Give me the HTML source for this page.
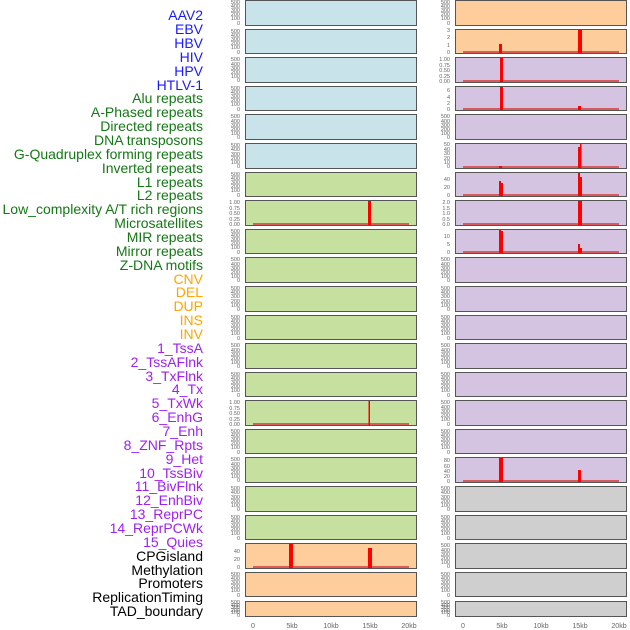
<!DOCTYPE html>
<html><head><meta charset="utf-8"><style>
body{margin:0;background:#fff;width:630px;height:630px;overflow:hidden}
svg{display:block}
.l{font-family:"Liberation Sans",sans-serif;font-size:14px;text-anchor:end}
.t{font-family:"Liberation Sans",sans-serif;font-size:5.5px;fill:#666;text-anchor:end}
.a{font-family:"Liberation Sans",sans-serif;font-size:7px;fill:#666;text-anchor:middle}
.b{fill:#c8e3ea}.g{fill:#c6e0a0}.o{fill:#fdcd9c}.p{fill:#d5c4e1}.y{fill:#cfcfcf}
rect.pn{stroke:#555;stroke-width:1}
</style></head><body>
<svg width="630" height="630" xmlns="http://www.w3.org/2000/svg">
<g class="l">
<text x="203" y="20" fill="#1a1aff">AAV2</text>
<text x="203" y="34" fill="#1a1aff">EBV</text>
<text x="203" y="48" fill="#1a1aff">HBV</text>
<text x="203" y="62" fill="#1a1aff">HIV</text>
<text x="203" y="76" fill="#1a1aff">HPV</text>
<text x="203" y="90" fill="#1a1aff">HTLV-1</text>
<text x="203" y="103" fill="#147814">Alu repeats</text>
<text x="203" y="117" fill="#147814">A-Phased repeats</text>
<text x="203" y="131" fill="#147814">Directed repeats</text>
<text x="203" y="145" fill="#147814">DNA transposons</text>
<text x="203" y="159" fill="#147814">G-Quadruplex forming repeats</text>
<text x="203" y="173" fill="#147814">Inverted repeats</text>
<text x="203" y="187" fill="#147814">L1 repeats</text>
<text x="203" y="200" fill="#147814">L2 repeats</text>
<text x="203" y="214" fill="#147814">Low_complexity A/T rich regions</text>
<text x="203" y="228" fill="#147814">Microsatellites</text>
<text x="203" y="242" fill="#147814">MIR repeats</text>
<text x="203" y="256" fill="#147814">Mirror repeats</text>
<text x="203" y="270" fill="#147814">Z-DNA motifs</text>
<text x="203" y="284" fill="#ffa500">CNV</text>
<text x="203" y="297" fill="#ffa500">DEL</text>
<text x="203" y="311" fill="#ffa500">DUP</text>
<text x="203" y="325" fill="#ffa500">INS</text>
<text x="203" y="339" fill="#ffa500">INV</text>
<text x="203" y="353" fill="#a020f0">1_TssA</text>
<text x="203" y="367" fill="#a020f0">2_TssAFlnk</text>
<text x="203" y="381" fill="#a020f0">3_TxFlnk</text>
<text x="203" y="394" fill="#a020f0">4_Tx</text>
<text x="203" y="408" fill="#a020f0">5_TxWk</text>
<text x="203" y="422" fill="#a020f0">6_EnhG</text>
<text x="203" y="436" fill="#a020f0">7_Enh</text>
<text x="203" y="450" fill="#a020f0">8_ZNF_Rpts</text>
<text x="203" y="464" fill="#a020f0">9_Het</text>
<text x="203" y="478" fill="#a020f0">10_TssBiv</text>
<text x="203" y="491" fill="#a020f0">11_BivFlnk</text>
<text x="203" y="505" fill="#a020f0">12_EnhBiv</text>
<text x="203" y="519" fill="#a020f0">13_ReprPC</text>
<text x="203" y="533" fill="#a020f0">14_ReprPCWk</text>
<text x="203" y="547" fill="#a020f0">15_Quies</text>
<text x="203" y="561" fill="#000">CPGisland</text>
<text x="203" y="575" fill="#000">Methylation</text>
<text x="203" y="588" fill="#000">Promoters</text>
<text x="203" y="602" fill="#000">ReplicationTiming</text>
<text x="203" y="616" fill="#000">TAD_boundary</text>
</g>

<!-- left panels -->
<rect class="pn b" x="245.5" y="0.5" width="171" height="25"/>
<rect class="pn b" x="245.5" y="29.5" width="171" height="24"/>
<rect class="pn b" x="245.5" y="57.5" width="171" height="25"/>
<rect class="pn b" x="245.5" y="86.5" width="171" height="24"/>
<rect class="pn b" x="245.5" y="114.5" width="171" height="25"/>
<rect class="pn b" x="245.5" y="143.5" width="171" height="25"/>
<rect class="pn g" x="245.5" y="172.5" width="171" height="24"/>
<rect class="pn g" x="245.5" y="200.5" width="171" height="25"/>
<rect class="pn g" x="245.5" y="229.5" width="171" height="24"/>
<rect class="pn g" x="245.5" y="257.5" width="171" height="25"/>
<rect class="pn g" x="245.5" y="286.5" width="171" height="25"/>
<rect class="pn g" x="245.5" y="315.5" width="171" height="24"/>
<rect class="pn g" x="245.5" y="343.5" width="171" height="25"/>
<rect class="pn g" x="245.5" y="372.5" width="171" height="24"/>
<rect class="pn g" x="245.5" y="400.5" width="171" height="25"/>
<rect class="pn g" x="245.5" y="429.5" width="171" height="24"/>
<rect class="pn g" x="245.5" y="457.5" width="171" height="25"/>
<rect class="pn g" x="245.5" y="486.5" width="171" height="25"/>
<rect class="pn g" x="245.5" y="515.5" width="171" height="24"/>
<rect class="pn o" x="245.5" y="543.5" width="171" height="25"/>
<rect class="pn o" x="245.5" y="572.5" width="171" height="24"/>
<rect class="pn o" x="245.5" y="601.5" width="171" height="15"/>

<!-- right panels -->
<rect class="pn o" x="455.5" y="0.5" width="171" height="25"/>
<rect class="pn o" x="455.5" y="29.5" width="171" height="24"/>
<rect class="pn p" x="455.5" y="57.5" width="171" height="25"/>
<rect class="pn p" x="455.5" y="86.5" width="171" height="24"/>
<rect class="pn p" x="455.5" y="114.5" width="171" height="25"/>
<rect class="pn p" x="455.5" y="143.5" width="171" height="25"/>
<rect class="pn p" x="455.5" y="172.5" width="171" height="24"/>
<rect class="pn p" x="455.5" y="200.5" width="171" height="25"/>
<rect class="pn p" x="455.5" y="229.5" width="171" height="24"/>
<rect class="pn p" x="455.5" y="257.5" width="171" height="25"/>
<rect class="pn p" x="455.5" y="286.5" width="171" height="25"/>
<rect class="pn p" x="455.5" y="315.5" width="171" height="24"/>
<rect class="pn p" x="455.5" y="343.5" width="171" height="25"/>
<rect class="pn p" x="455.5" y="372.5" width="171" height="24"/>
<rect class="pn p" x="455.5" y="400.5" width="171" height="25"/>
<rect class="pn p" x="455.5" y="429.5" width="171" height="24"/>
<rect class="pn p" x="455.5" y="457.5" width="171" height="25"/>
<rect class="pn y" x="455.5" y="486.5" width="171" height="25"/>
<rect class="pn y" x="455.5" y="515.5" width="171" height="24"/>
<rect class="pn y" x="455.5" y="543.5" width="171" height="25"/>
<rect class="pn y" x="455.5" y="572.5" width="171" height="24"/>
<rect class="pn y" x="455.5" y="601.5" width="171" height="15"/>

<!-- baselines -->
<g fill="#d84848" opacity="0.85">
<rect x="253" y="223" width="156" height="2"/>
<rect x="253" y="423" width="156" height="2"/>
<rect x="253" y="566" width="156" height="2"/>
<rect x="463" y="51" width="156" height="2"/>
<rect x="463" y="80" width="156" height="2"/>
<rect x="463" y="108" width="156" height="2"/>
<rect x="463" y="166" width="156" height="2"/>
<rect x="463" y="194" width="156" height="2"/>
<rect x="463" y="223" width="156" height="2"/>
<rect x="463" y="251" width="156" height="2"/>
<rect x="463" y="480" width="156" height="2"/>
</g>
<!-- bars -->
<g fill="#ff0000">
<rect x="368" y="201" width="3" height="24"/>
<rect x="368.5" y="401" width="1.5" height="24"/>
<rect x="289" y="544" width="4" height="24"/>
<rect x="368" y="548" width="4" height="20"/>
<rect x="499" y="44" width="3" height="9"/>
<rect x="578" y="30" width="4" height="23"/>
<rect x="500" y="58" width="3" height="24"/>
<rect x="500" y="87" width="3" height="23"/>
<rect x="578" y="106" width="3" height="4"/>
<rect x="499" y="166" width="3" height="2"/>
<rect x="578" y="147" width="2" height="21"/>
<rect x="580" y="144" width="1.5" height="24"/>
<rect x="499" y="181" width="2" height="15"/>
<rect x="501" y="183" width="2" height="13"/>
<rect x="578" y="173" width="2" height="23"/>
<rect x="580" y="177" width="2" height="19"/>
<rect x="578" y="201" width="4" height="24"/>
<rect x="499" y="230" width="2" height="23"/>
<rect x="501" y="231" width="2" height="22"/>
<rect x="578" y="244" width="2" height="9"/>
<rect x="580" y="248" width="2" height="5"/>
<rect x="499" y="458" width="4" height="24"/>
<rect x="578" y="470" width="3" height="12"/>
</g>

<!-- tick labels -->
<g class="t">
<text x="240" y="4">500</text><text x="240" y="8">400</text><text x="240" y="12">300</text><text x="240" y="16">200</text><text x="240" y="20">100</text><text x="240" y="25">0</text>
<text x="240" y="33">500</text><text x="240" y="37">400</text><text x="240" y="41">300</text><text x="240" y="45">200</text><text x="240" y="49">100</text><text x="240" y="54">0</text>
<text x="240" y="61">500</text><text x="240" y="66">400</text><text x="240" y="70">300</text><text x="240" y="74">200</text><text x="240" y="78">100</text><text x="240" y="82">0</text>
<text x="240" y="90">500</text><text x="240" y="94">400</text><text x="240" y="98">300</text><text x="240" y="102">200</text><text x="240" y="106">100</text><text x="240" y="111">0</text>
<text x="240" y="118">500</text><text x="240" y="123">400</text><text x="240" y="127">300</text><text x="240" y="131">200</text><text x="240" y="135">100</text><text x="240" y="139">0</text>
<text x="240" y="147">500</text><text x="240" y="151">400</text><text x="240" y="156">300</text><text x="240" y="160">200</text><text x="240" y="164">100</text><text x="240" y="168">0</text>
<text x="240" y="176">500</text><text x="240" y="180">400</text><text x="240" y="184">300</text><text x="240" y="188">200</text><text x="240" y="192">100</text><text x="240" y="197">0</text>
<text x="240" y="204">1.00</text><text x="240" y="210">0.75</text><text x="240" y="215">0.50</text><text x="240" y="221">0.25</text><text x="240" y="226">0.00</text>
<text x="240" y="233">500</text><text x="240" y="237">400</text><text x="240" y="241">300</text><text x="240" y="245">200</text><text x="240" y="249">100</text><text x="240" y="254">0</text>
<text x="240" y="261">500</text><text x="240" y="266">400</text><text x="240" y="270">300</text><text x="240" y="274">200</text><text x="240" y="278">100</text><text x="240" y="282">0</text>
<text x="240" y="290">500</text><text x="240" y="294">400</text><text x="240" y="298">300</text><text x="240" y="303">200</text><text x="240" y="307">100</text><text x="240" y="311">0</text>
<text x="240" y="319">500</text><text x="240" y="323">400</text><text x="240" y="327">300</text><text x="240" y="331">200</text><text x="240" y="335">100</text><text x="240" y="340">0</text>
<text x="240" y="347">500</text><text x="240" y="352">400</text><text x="240" y="356">300</text><text x="240" y="360">200</text><text x="240" y="364">100</text><text x="240" y="368">0</text>
<text x="240" y="376">500</text><text x="240" y="380">400</text><text x="240" y="384">300</text><text x="240" y="388">200</text><text x="240" y="392">100</text><text x="240" y="397">0</text>
<text x="240" y="404">1.00</text><text x="240" y="410">0.75</text><text x="240" y="415">0.50</text><text x="240" y="421">0.25</text><text x="240" y="426">0.00</text>
<text x="240" y="433">500</text><text x="240" y="437">400</text><text x="240" y="441">300</text><text x="240" y="445">200</text><text x="240" y="449">100</text><text x="240" y="454">0</text>
<text x="240" y="461">500</text><text x="240" y="466">400</text><text x="240" y="470">300</text><text x="240" y="474">200</text><text x="240" y="478">100</text><text x="240" y="482">0</text>
<text x="240" y="490">500</text><text x="240" y="494">400</text><text x="240" y="499">300</text><text x="240" y="503">200</text><text x="240" y="507">100</text><text x="240" y="511">0</text>
<text x="240" y="519">500</text><text x="240" y="523">400</text><text x="240" y="527">300</text><text x="240" y="531">200</text><text x="240" y="535">100</text><text x="240" y="540">0</text>
<text x="240" y="553">40</text><text x="240" y="561">20</text><text x="240" y="569">0</text>
<text x="240" y="576">500</text><text x="240" y="580">400</text><text x="240" y="584">300</text><text x="240" y="588">200</text><text x="240" y="592">100</text><text x="240" y="597">0</text>
<text x="240" y="604">500</text><text x="240" y="607">400</text><text x="240" y="609">300</text><text x="240" y="612">200</text><text x="240" y="614">100</text><text x="240" y="617">0</text>

<text x="450" y="4">500</text><text x="450" y="8">400</text><text x="450" y="12">300</text><text x="450" y="16">200</text><text x="450" y="20">100</text><text x="450" y="25">0</text>
<text x="450" y="32">3</text><text x="450" y="39">2</text><text x="450" y="47">1</text><text x="450" y="54">0</text>
<text x="450" y="61">1.00</text><text x="450" y="67">0.75</text><text x="450" y="72">0.50</text><text x="450" y="78">0.25</text><text x="450" y="83">0.00</text>
<text x="450" y="92">6</text><text x="450" y="99">4</text><text x="450" y="105">2</text><text x="450" y="111">0</text>
<text x="450" y="118">500</text><text x="450" y="123">400</text><text x="450" y="127">300</text><text x="450" y="131">200</text><text x="450" y="135">100</text><text x="450" y="139">0</text>
<text x="450" y="146">50</text><text x="450" y="151">40</text><text x="450" y="155">30</text><text x="450" y="160">20</text><text x="450" y="164">10</text><text x="450" y="168">0</text>
<text x="450" y="181">40</text><text x="450" y="189">20</text><text x="450" y="197">0</text>
<text x="450" y="204">2.0</text><text x="450" y="210">1.5</text><text x="450" y="215">1.0</text><text x="450" y="221">0.5</text><text x="450" y="226">0.0</text>
<text x="450" y="238">10</text><text x="450" y="246">5</text><text x="450" y="254">0</text>
<text x="450" y="261">500</text><text x="450" y="266">400</text><text x="450" y="270">300</text><text x="450" y="274">200</text><text x="450" y="278">100</text><text x="450" y="282">0</text>
<text x="450" y="290">500</text><text x="450" y="294">400</text><text x="450" y="298">300</text><text x="450" y="303">200</text><text x="450" y="307">100</text><text x="450" y="311">0</text>
<text x="450" y="319">500</text><text x="450" y="323">400</text><text x="450" y="327">300</text><text x="450" y="331">200</text><text x="450" y="335">100</text><text x="450" y="340">0</text>
<text x="450" y="347">500</text><text x="450" y="352">400</text><text x="450" y="356">300</text><text x="450" y="360">200</text><text x="450" y="364">100</text><text x="450" y="368">0</text>
<text x="450" y="376">500</text><text x="450" y="380">400</text><text x="450" y="384">300</text><text x="450" y="388">200</text><text x="450" y="392">100</text><text x="450" y="397">0</text>
<text x="450" y="404">500</text><text x="450" y="409">400</text><text x="450" y="413">300</text><text x="450" y="417">200</text><text x="450" y="421">100</text><text x="450" y="426">0</text>
<text x="450" y="433">500</text><text x="450" y="437">400</text><text x="450" y="441">300</text><text x="450" y="445">200</text><text x="450" y="449">100</text><text x="450" y="454">0</text>
<text x="450" y="462">80</text><text x="450" y="468">60</text><text x="450" y="473">40</text><text x="450" y="478">20</text><text x="450" y="483">0</text>
<text x="450" y="490">500</text><text x="450" y="494">400</text><text x="450" y="499">300</text><text x="450" y="503">200</text><text x="450" y="507">100</text><text x="450" y="511">0</text>
<text x="450" y="519">500</text><text x="450" y="523">400</text><text x="450" y="527">300</text><text x="450" y="531">200</text><text x="450" y="535">100</text><text x="450" y="540">0</text>
<text x="450" y="547">500</text><text x="450" y="552">400</text><text x="450" y="556">300</text><text x="450" y="560">200</text><text x="450" y="564">100</text><text x="450" y="568">0</text>
<text x="450" y="576">500</text><text x="450" y="580">400</text><text x="450" y="584">300</text><text x="450" y="588">200</text><text x="450" y="592">100</text><text x="450" y="597">0</text>
<text x="450" y="604">500</text><text x="450" y="607">400</text><text x="450" y="609">300</text><text x="450" y="612">200</text><text x="450" y="614">100</text><text x="450" y="617">0</text>
</g>

<g class="a">
<text x="253" y="628">0</text><text x="292" y="628">5kb</text><text x="331" y="628">10kb</text><text x="370" y="628">15kb</text><text x="409" y="628">20kb</text>
<text x="463" y="628">0</text><text x="502" y="628">5kb</text><text x="541" y="628">10kb</text><text x="580" y="628">15kb</text><text x="619" y="628">20kb</text>
</g>
</svg>
</body></html>
